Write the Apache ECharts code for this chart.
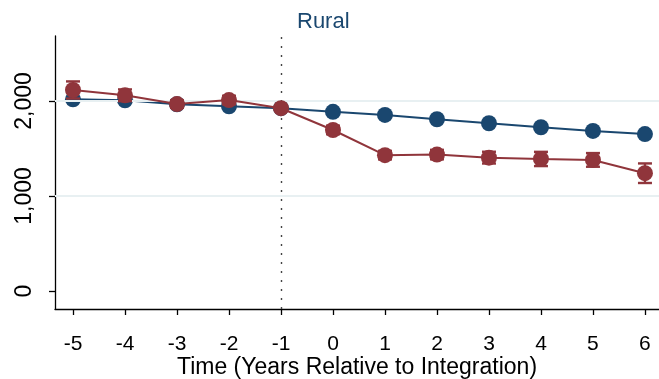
<!DOCTYPE html>
<html>
<head>
<meta charset="utf-8">
<script src="https://cdn.jsdelivr.net/npm/echarts@6/dist/echarts.min.js"></script>
<style>
  html, body { margin: 0; padding: 0; background: #fff; }
  #chart { width: 659px; height: 379px; }
</style>
</head>
<body>
<div id="chart"></div>
<script>
// Event time relative to integration
const years = [-5, -4, -3, -2, -1, 0, 1, 2, 3, 4, 5, 6];
// Comparison group (navy)
const navyMean = [2018, 2008, 1966, 1945, 1924, 1886, 1853, 1808, 1766, 1724, 1685, 1652];
const navyErr  = [20, 20, 20, 20, 20, 20, 20, 20, 20, 20, 20, 20];
// Integrated group (maroon)
const maroonMean = [2116, 2060, 1968, 2010, 1924, 1695, 1430, 1436, 1404, 1390, 1380, 1240];
const maroonErr  = [90, 62, 40, 45, 30, 45, 45, 50, 62, 75, 72, 103];

const yTicks = [0, 1000, 2000];
const xTicks = years;
const titleText = 'Rural';
const xTitle = 'Time (Years Relative to Integration)';

const NAVY = '#1a476f';
const MAROON = '#90353b';
const FONT = 'Liberation Sans, Arial, sans-serif';

function pts(mean) { return years.map((x, i) => [x, mean[i]]); }
function bars(mean, err) { return years.map((x, i) => [x, mean[i] - err[i], mean[i] + err[i]]); }

function errorBar(color) {
  return function (params, api) {
    const x = api.value(0);
    const lo = api.coord([x, api.value(1)]);
    const hi = api.coord([x, api.value(2)]);
    const w = 7;
    const style = { stroke: color, lineWidth: 2.4 };
    return {
      type: 'group',
      children: [
        { type: 'line', shape: { x1: lo[0], y1: lo[1], x2: hi[0], y2: hi[1] }, style },
        { type: 'line', shape: { x1: lo[0] - w, y1: lo[1], x2: lo[0] + w, y2: lo[1] }, style },
        { type: 'line', shape: { x1: hi[0] - w, y1: hi[1], x2: hi[0] + w, y2: hi[1] }, style }
      ]
    };
  };
}

const chart = echarts.init(document.getElementById('chart'), null, { renderer: 'canvas' });
chart.setOption({
  animation: false,
  backgroundColor: '#ffffff',
  title: {
    text: titleText,
    left: 292, top: 6,
    textStyle: { color: NAVY, fontFamily: FONT, fontSize: 22, fontWeight: 'normal' }
  },
  grid: { left: 55, right: 0, top: 36, bottom: 70, containLabel: false, outerBoundsMode: 'none' },
  xAxis: {
    type: 'value',
    min: -5.346, max: 6.27,
    name: xTitle,
    nameLocation: 'middle',
    nameGap: 47,
    nameMoveOverlap: false,
    nameTextStyle: { color: '#000', fontFamily: FONT, fontSize: 23 },
    axisLine: { show: true, onZero: false, lineStyle: { color: '#000', width: 1.3 } },
    axisTick: { show: true, customValues: xTicks, length: 6, lineStyle: { color: '#000', width: 1.3 } },
    axisLabel: { customValues: xTicks, color: '#000', fontFamily: FONT, fontSize: 21, margin: 25 },
    splitLine: { show: false }
  },
  yAxis: {
    type: 'value',
    min: -189, max: 2684,
    axisLine: { show: true, onZero: false, lineStyle: { color: '#000', width: 1.3 } },
    axisTick: { show: true, customValues: yTicks, length: 6, lineStyle: { color: '#000', width: 1.3 } },
    axisLabel: {
      customValues: yTicks, color: '#000', fontFamily: FONT, fontSize: 23, rotate: 90, margin: 19,
      formatter: v => v.toLocaleString('en-US')
    },
    splitLine: { show: false }
  },
  series: [
    {
      type: 'line', data: [], silent: true,
      markLine: {
        silent: true, symbol: 'none', label: { show: false },
        data: [
          { yAxis: 1000, lineStyle: { color: '#e8f0f2', width: 2, type: 'solid' } },
          { yAxis: 2000, lineStyle: { color: '#e8f0f2', width: 2, type: 'solid' } },
          { xAxis: -1, lineStyle: { color: '#444', width: 1.4, type: [2, 7] } }
        ]
      }
    },
    {
      type: 'custom', renderItem: errorBar(NAVY), data: bars(navyMean, navyErr), z: 3
    },
    {
      type: 'line', data: pts(navyMean), symbol: 'circle', symbolSize: 16,
      lineStyle: { color: NAVY, width: 2 }, itemStyle: { color: NAVY }, z: 4
    },
    {
      type: 'custom', renderItem: errorBar(MAROON), data: bars(maroonMean, maroonErr), z: 5
    },
    {
      type: 'line', data: pts(maroonMean), symbol: 'circle', symbolSize: 16,
      lineStyle: { color: MAROON, width: 2 }, itemStyle: { color: MAROON }, z: 6
    }
  ]
});
</script>
</body>
</html>
